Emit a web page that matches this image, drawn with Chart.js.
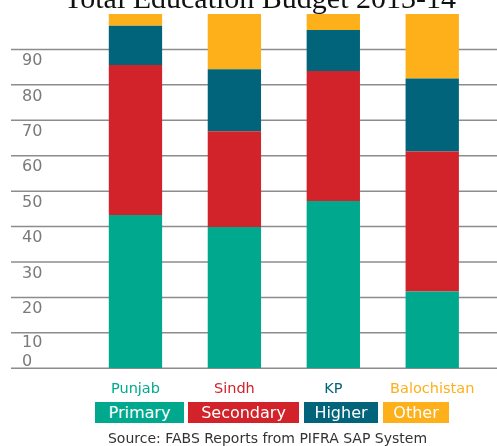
<!DOCTYPE html>
<html><head><meta charset="utf-8">
<script src="https://cdn.jsdelivr.net/npm/chart.js@4"></script>
<style>
html,body{margin:0;padding:0;background:#fff;overflow:hidden;}
#wrap{position:relative;width:497px;height:446px;overflow:hidden;}
#cv{position:absolute;left:0;top:0;}
.title{position:absolute;left:0;width:520px;top:-17px;text-align:center;font:30px "Liberation Serif",serif;line-height:30px;color:#111;white-space:nowrap;}
.lg{position:absolute;top:402px;height:21px;color:#fff;font:16px "DejaVu Sans",sans-serif;line-height:21px;text-align:center;white-space:nowrap;}
.src{position:absolute;left:0;width:535px;top:430px;text-align:center;font:14px "DejaVu Sans",sans-serif;line-height:16px;color:#333;white-space:nowrap;}
</style></head>
<body>
<div id="wrap">
<canvas id="cv" width="497" height="446"></canvas>
<div class="title" id="title"></div>
<div id="legend"></div>
<div class="src" id="src"></div>
</div>
<script>
// ---- data ----
const titleText = 'Total Education Budget 2013-14';
const sourceText = 'Source: FABS Reports from PIFRA SAP System';
const categories = ['Punjab', 'Sindh', 'KP', 'Balochistan'];
const seriesNames = ['Primary', 'Secondary', 'Higher', 'Other'];
const primary   = [43.3, 39.9, 47.2, 21.7];
const secondary = [42.3, 27.0, 36.7, 39.5];
const higher    = [11.1, 17.5, 11.6, 20.6];
const other     = [3.3, 15.6, 4.5, 18.2];
const yTickValues = [0, 10, 20, 30, 40, 50, 60, 70, 80, 90];

// ---- styles ----
const seriesColors = ['#00a88d', '#d2232a', '#02647a', '#fdb01a'];
const legendBoxes = [[95, 89], [188, 111], [304, 74], [383, 66]];

document.getElementById('title').textContent = titleText;
document.getElementById('src').textContent = sourceText;
const lg = document.getElementById('legend');
seriesNames.forEach((n, i) => {
  const d = document.createElement('div');
  d.className = 'lg';
  d.style.left = legendBoxes[i][0] + 'px';
  d.style.width = legendBoxes[i][1] + 'px';
  d.style.background = seriesColors[i];
  d.textContent = n;
  lg.appendChild(d);
});

const gridPlugin = {
  id: 'gridLabels',
  beforeDatasetsDraw(chart) {
    const ctx = chart.ctx, y = chart.scales.y;
    ctx.save();
    ctx.strokeStyle = '#8c8c8c';
    ctx.lineWidth = 1.5;
    yTickValues.forEach(v => {
      const py = y.getPixelForValue(v);
      ctx.beginPath();
      ctx.moveTo(11, py);
      ctx.lineTo(497, py);
      ctx.stroke();
    });
    ctx.fillStyle = '#7a7a7a';
    ctx.font = '16px "DejaVu Sans"';
    ctx.textAlign = 'left';
    ctx.textBaseline = 'middle';
    yTickValues.forEach(v => {
      const py = y.getPixelForValue(v);
      const off = v === 0 ? -6 : (v === 10 ? 9.5 : 11.5);
      ctx.fillText(String(v), 22, py + off);
    });
    ctx.restore();
  }
};

const datasets = [primary, secondary, higher, other].map((d, i) => ({
  label: seriesNames[i],
  data: d,
  backgroundColor: seriesColors[i],
  borderWidth: 0,
  categoryPercentage: 1,
  barPercentage: 0.539
}));

new Chart(document.getElementById('cv'), {
  type: 'bar',
  data: { labels: categories, datasets },
  options: {
    responsive: false,
    animation: false,
    layout: { padding: { left: 86, right: 15.3, top: 14, bottom: 36.3 } },
    plugins: { legend: { display: false }, tooltip: { enabled: false }, title: { display: false } },
    scales: {
      x: {
        stacked: true,
        grid: { display: false, drawTicks: false },
        border: { display: false },
        ticks: {
          padding: 12,
          font: { family: 'DejaVu Sans', size: 14.5 },
          color: (c) => seriesColors[c.index]
        }
      },
      y: { stacked: true, display: false, min: 0, max: 100 }
    }
  },
  plugins: [gridPlugin]
});
</script>
</body></html>
